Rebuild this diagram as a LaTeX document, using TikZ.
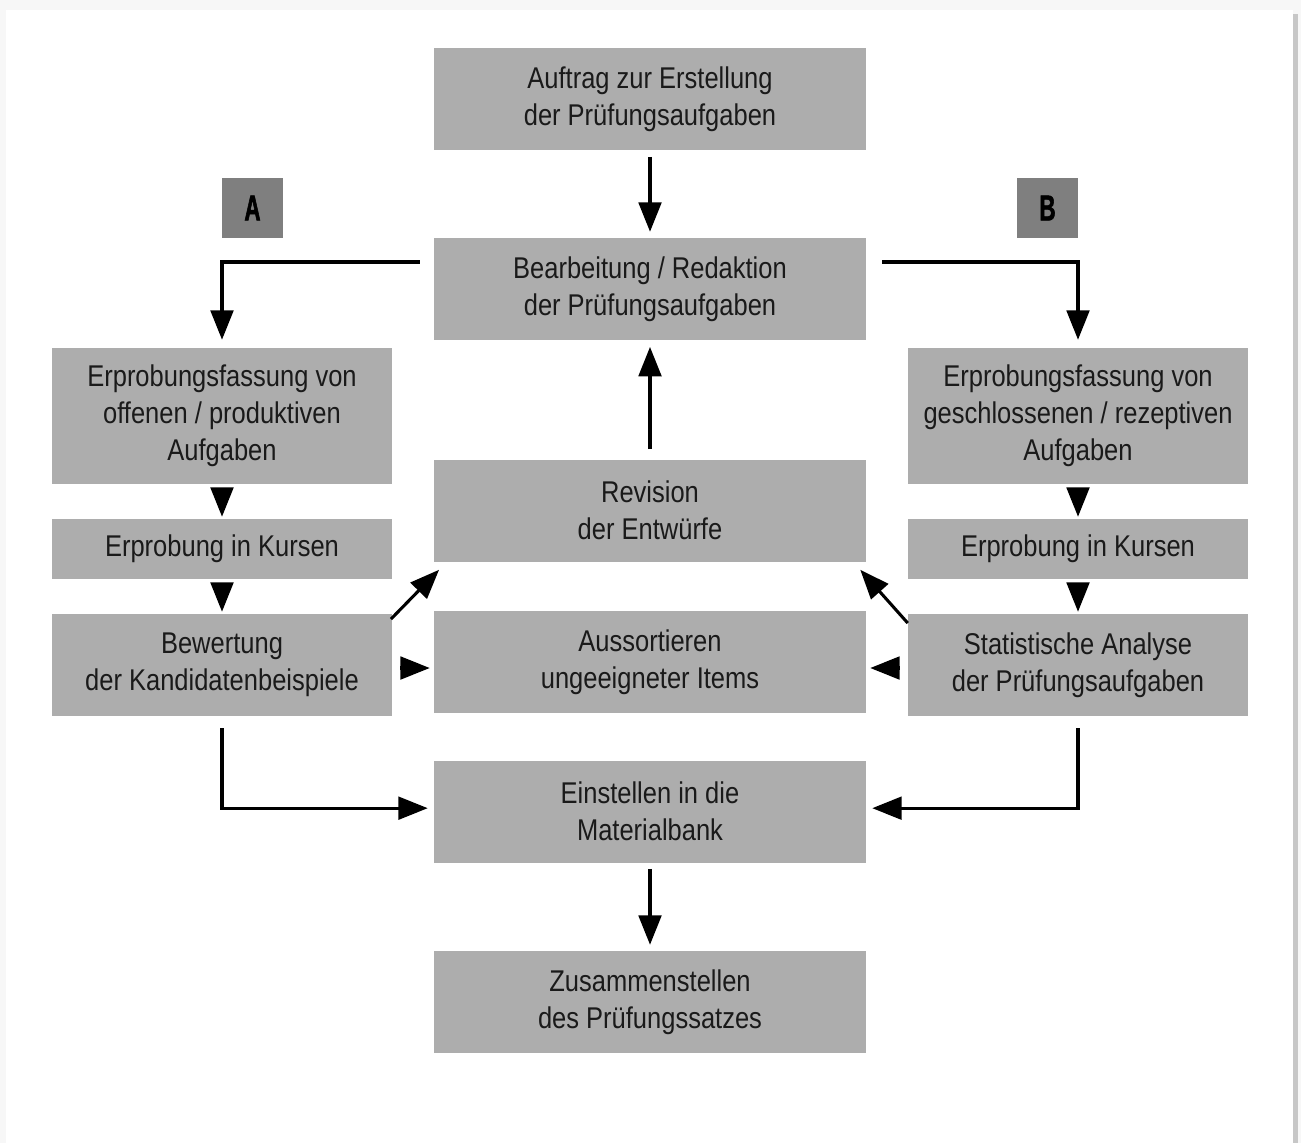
\documentclass[tikz,border=0pt]{standalone}
\usepackage{fontspec}
\setmainfont[FakeStretch=0.85]{Liberation Sans}
\newfontfamily\labfont[FakeStretch=0.62,FakeBold=1.5]{Liberation Sans Bold}
\usetikzlibrary{arrows.meta}
\definecolor{boxgray}{HTML}{ADADAD}
\definecolor{labgray}{HTML}{7F7F7F}
\definecolor{txt}{HTML}{1A1A1A}
\begin{document}
\begin{tikzpicture}[x=0.75pt,y=-0.75pt,
  box/.style={fill=boxgray, draw=none, inner sep=0pt, align=center, text=txt,
    font=\fontsize{22.5}{27.75}\selectfont},
  wide/.style={box, minimum width=324pt, minimum height=76.5pt},
  side/.style={box, minimum width=255pt},
  lab/.style={fill=labgray, inner sep=0pt, minimum width=45.75pt, minimum height=45pt,
    font=\labfont\fontsize{27}{27}\selectfont, text=black},
  arr/.style={line width=2.3pt, draw=black,
    -{Triangle[width=17pt,length=22pt]}}
]
% background and frame
\fill[black!3] (0,0) rectangle (1301,1143);
\fill[black!22] (1293,14) rectangle (1298,1143);
\fill[white] (6,10) rectangle (1293,1143);
\useasboundingbox (0,0) rectangle (1301,1143);

% central column
\node[wide] (auftrag) at (650,99) {Auftrag zur Erstellung\\der Prüfungsaufgaben};
\node[wide] (bearb) at (650,289) {Bearbeitung / Redaktion\\der Prüfungsaufgaben};
\node[wide] (rev) at (650,510.5) {Revision\\der Entwürfe};
\node[wide] (aus) at (650,662) {Aussortieren\\ungeeigneter Items};
\node[wide] (einst) at (650,811.5) {Einstellen in die\\Materialbank};
\node[wide] (zus) at (650,1002) {Zusammenstellen\\des Prüfungssatzes};

% left column
\node[side, minimum height=102pt] (fassL) at (222,416) {Erprobungsfassung von\\offenen / produktiven\\Aufgaben};
\node[side, minimum height=45pt] (kursL) at (222,549) {Erprobung in Kursen};
\node[side, minimum height=76.5pt] (bewL) at (222,665) {Bewertung\\der Kandidatenbeispiele};

% right column
\node[side, minimum height=102pt] (fassR) at (1078,416) {Erprobungsfassung von\\geschlossenen / rezeptiven\\Aufgaben};
\node[side, minimum height=45pt] (kursR) at (1078,549) {Erprobung in Kursen};
\node[side, minimum height=76.5pt] (statR) at (1078,665) {Statistische Analyse\\der Prüfungsaufgaben};

% labels
\node[lab] (labA) at (252.5,208) {A};
\node[lab] (labB) at (1047.5,208) {B};

% connectors
\draw[arr, shorten <=5pt, shorten >=4.5pt] (auftrag) -- (bearb);
\draw[arr, shorten <=10.5pt, shorten >=6pt] ([yshift=20.25pt]bearb.west) -| (fassL.north);
\draw[arr, shorten <=12pt, shorten >=6pt] ([yshift=20.25pt]bearb.east) -| (fassR.north);
\draw[arr, shorten <=3pt, shorten >=1.5pt] (fassL) -- (kursL);
\draw[arr, shorten <=3pt, shorten >=1.5pt] (kursL) -- (bewL);
\draw[arr, shorten <=3pt, shorten >=1.5pt] (fassR) -- (kursR);
\draw[arr, shorten <=3pt, shorten >=1.5pt] (kursR) -- (statR);
\draw[arr, shorten <=7.5pt, shorten >=5pt] (rev) -- (bearb);
\draw[arr] ([xshift=-1pt,yshift=-4pt]bewL.north east) -- ([xshift=4pt,yshift=-6pt]rev.south west);
\draw[arr] ([xshift=0pt,yshift=-7pt]statR.north west) -- ([xshift=-4.5pt,yshift=-6pt]rev.south east);
\draw[arr, shorten <=6pt, shorten >=3pt] ([yshift=-2.25pt]bewL.east) -- ([yshift=-2.25pt]bewL.east -| aus.west);
\draw[arr, shorten <=6pt, shorten >=3pt] ([yshift=-2.25pt]statR.west) -- ([yshift=-2.25pt]statR.west -| aus.east);
\draw[arr, shorten <=9pt, shorten >=4.5pt] (bewL.south) |- ([yshift=2.5pt]einst.west);
\draw[arr, shorten <=9pt, shorten >=4.5pt] (statR.south) |- ([yshift=2.5pt]einst.east);
\draw[arr, shorten <=4.5pt, shorten >=4.5pt] (einst) -- (zus);
\end{tikzpicture}
\end{document}
